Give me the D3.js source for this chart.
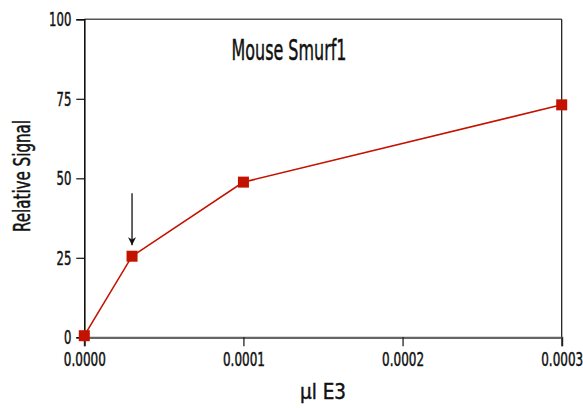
<!DOCTYPE html>
<html>
<head>
<meta charset="utf-8">
<script src="https://cdn.jsdelivr.net/npm/d3@7"></script>
<style>
  html, body { margin: 0; padding: 0; background: #fff; }
  svg text { font-family: "DejaVu Sans Condensed", "Liberation Sans Narrow", sans-serif; fill: #111; stroke: #111; stroke-width: 0.45px; }
</style>
</head>
<body>
<svg id="chart" width="583" height="408"></svg>
<script>
// Dose-response data for Mouse Smurf1
const doses = [0, 0.00003, 0.0001, 0.0003];
const signal = [0.5, 25.5, 48.8, 73.1];
const xTicks = [0, 0.0001, 0.0002, 0.0003];
const yTicks = [0, 25, 50, 75, 100];
const markedDose = 0.00003; // point highlighted by the arrow
const markedSignal = 25.5;

const svg = d3.select("#chart");
const margin = { left: 84.3, right: 583 - 561.7, top: 19.3, bottom: 408 - 337.3 };
const W = 583 - margin.left - margin.right;
const H = 408 - margin.top - margin.bottom;

const x = d3.scaleLinear().domain([0, 0.0003]).range([margin.left, margin.left + W]);
const y = d3.scaleLinear().domain([0, 100]).range([margin.top + H, margin.top]);

const red = "#c41200";

// frame: top and right edges
svg.append("line").attr("x1", x(0)).attr("x2", x(0.0003)).attr("y1", y(100)).attr("y2", y(100))
  .attr("stroke", "#555").attr("stroke-width", 1.6);
svg.append("line").attr("x1", x(0.0003)).attr("x2", x(0.0003)).attr("y1", y(100)).attr("y2", y(0))
  .attr("stroke", "#111").attr("stroke-width", 1.2);

// y axis
const yAxis = svg.append("g").attr("transform", `translate(${x(0)},0)`)
  .call(d3.axisLeft(y).tickValues(yTicks).tickSize(8).tickPadding(5).tickFormat(d3.format("d")));
yAxis.select(".domain").attr("stroke", "#111").attr("stroke-width", 1.6);
yAxis.selectAll(".tick line").attr("stroke", "#111").attr("stroke-width", 1.2);
yAxis.selectAll(".tick text").attr("font-size", 20).attr("fill", "#111")
  .style("font-family", null)
  .attr("textLength", d => String(d).length * 7.4).attr("lengthAdjust", "spacingAndGlyphs");

// x axis
const xAxis = svg.append("g").attr("transform", `translate(0,${y(0)})`)
  .call(d3.axisBottom(x).tickValues(xTicks).tickSize(9).tickPadding(6).tickFormat(d3.format(".4f")));
xAxis.select(".domain").attr("stroke", "#666").attr("stroke-width", 2.2);
xAxis.selectAll(".tick line").attr("stroke", "#111").attr("stroke-width", 1.2);
xAxis.selectAll(".tick text").attr("font-size", 19).attr("fill", "#111")
  .style("font-family", null)
  .attr("textLength", 42).attr("lengthAdjust", "spacingAndGlyphs");

// data line
svg.append("path")
  .datum(doses.map((d, i) => [d, signal[i]]))
  .attr("fill", "none").attr("stroke", red).attr("stroke-width", 1.6)
  .attr("d", d3.line().x(d => x(d[0])).y(d => y(d[1])));

// square markers
const ms = 11;
svg.selectAll("rect.pt").data(doses.map((d, i) => [d, signal[i]])).enter()
  .append("rect").attr("class", "pt")
  .attr("x", d => x(d[0]) - ms / 2).attr("y", d => y(d[1]) - ms / 2)
  .attr("width", ms).attr("height", ms).attr("fill", red);

// arrow pointing at the highlighted point
svg.append("defs").append("marker")
  .attr("id", "arrowhead").attr("viewBox", "0 0 10 10").attr("refX", 10).attr("refY", 5)
  .attr("markerWidth", 8).attr("markerHeight", 8).attr("markerUnits", "userSpaceOnUse")
  .attr("orient", "auto")
  .append("path").attr("d", "M0,0 L10,5 L0,10 L3,5 Z").attr("fill", "#111");
svg.append("line")
  .attr("x1", x(markedDose)).attr("x2", x(markedDose))
  .attr("y1", y(markedSignal) - 63).attr("y2", y(markedSignal) - 11)
  .attr("stroke", "#111").attr("stroke-width", 1.3)
  .attr("marker-end", "url(#arrowhead)");

// title
svg.append("text").attr("x", 231.5).attr("y", 60)
  .attr("font-size", 29).attr("textLength", 115).attr("lengthAdjust", "spacingAndGlyphs")
  .text("Mouse Smurf1");

// axis titles
svg.append("text").attr("x", 300).attr("y", 399)
  .attr("font-size", 22).attr("textLength", 46).attr("lengthAdjust", "spacingAndGlyphs")
  .text("μl E3");

svg.append("text")
  .attr("transform", "translate(30,176) rotate(-90)")
  .attr("text-anchor", "middle")
  .attr("font-size", 23).attr("textLength", 112).attr("lengthAdjust", "spacingAndGlyphs")
  .text("Relative Signal");
</script>
</body>
</html>
